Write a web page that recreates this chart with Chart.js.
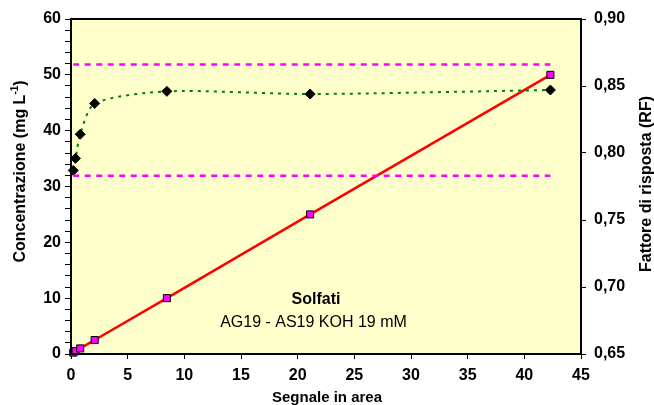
<!DOCTYPE html>
<html>
<head>
<meta charset="utf-8">
<script src="https://cdn.jsdelivr.net/npm/chart.js@4/dist/chart.umd.min.js"></script>
<style>
  html, body { margin: 0; padding: 0; background: #ffffff; }
  canvas { display: block; }
</style>
</head>
<body>
<canvas id="c" width="654" height="405"></canvas>
<script>
// ---- data ----
const signal        = [0.197, 0.398, 0.814, 2.09, 8.46, 21.1, 42.3];   // Segnale in area
const concentration = [0.25, 0.5, 1, 2.5, 10, 25, 50];                // mg/L (left axis)
const responseFactor = [0.787, 0.796, 0.814, 0.837, 0.846, 0.844, 0.847]; // RF (right axis)
const rfLimits      = [0.866, 0.783];                                  // upper / lower RF limits
const xTicks = { min: 0, max: 45, step: 5 };
const yTicks = { min: 0, max: 60, step: 10, minor: 2 };
const y2Ticks = { min: 0.65, max: 0.90, step: 0.05 };
const chartTitle = 'Solfati';
const chartSubtitle = 'AG19 - AS19 KOH 19 mM';
const xTitle = 'Segnale in area';
const yTitleMain = 'Concentrazione (mg L';
const yTitleSup = '-1';
const yTitleEnd = ')';
const y2Title = 'Fattore di risposta (RF)';

const FONT = '"Liberation Sans", Arial, Helvetica, sans-serif';

const concPoints = signal.map((s, i) => ({ x: s, y: concentration[i] }));
const rfPoints = signal.map((s, i) => ({ x: s, y: responseFactor[i] }));
const limitLine = v => [{ x: signal[0], y: v }, { x: signal[signal.length - 1], y: v }];

const decorPlugin = {
  id: 'decor',
  beforeDraw(chart) {
    const { ctx, chartArea: a } = chart;
    ctx.save();
    ctx.fillStyle = '#ffffff';
    ctx.fillRect(0, 0, chart.width, chart.height);
    ctx.fillStyle = '#FFFFCC';
    ctx.fillRect(a.left, a.top, a.right - a.left, a.bottom - a.top);
    ctx.restore();
  },
  afterDraw(chart) {
    const { ctx, chartArea: a } = chart;
    ctx.save();
    // plot border
    ctx.strokeStyle = '#000000';
    ctx.lineWidth = 2;
    ctx.strokeRect(a.left, a.top, a.right - a.left, a.bottom - a.top);

    ctx.fillStyle = '#000000';
    // x title
    ctx.font = 'bold 15px ' + FONT;
    ctx.textAlign = 'center';
    ctx.textBaseline = 'alphabetic';
    ctx.fillText(xTitle, 327, 401.5);

    // left title with superscript
    ctx.save();
    ctx.translate(25, 171.5);
    ctx.rotate(-Math.PI / 2);
    const fMain = 'bold 16px ' + FONT, fSup = 'bold 10px ' + FONT;
    ctx.font = fMain; const w1 = ctx.measureText(yTitleMain).width; const w3 = ctx.measureText(yTitleEnd).width;
    ctx.font = fSup; const w2 = ctx.measureText(yTitleSup).width;
    let x0 = -(w1 + w2 + w3) / 2;
    ctx.textAlign = 'left';
    ctx.font = fMain; ctx.fillText(yTitleMain, x0, 0);
    ctx.font = fSup; ctx.fillText(yTitleSup, x0 + w1, -7);
    ctx.font = fMain; ctx.fillText(yTitleEnd, x0 + w1 + w2, 0);
    ctx.restore();

    // right title
    ctx.save();
    ctx.translate(651, 184);
    ctx.rotate(-Math.PI / 2);
    ctx.font = 'bold 16px ' + FONT;
    ctx.textAlign = 'center';
    ctx.fillText(y2Title, 0, 0);
    ctx.restore();

    // in-plot annotation
    ctx.textAlign = 'center';
    ctx.font = 'bold 16px ' + FONT;
    ctx.fillText(chartTitle, 316, 304);
    ctx.font = '16px ' + FONT;
    ctx.fillText(chartSubtitle, 313.5, 326.5);
    ctx.restore();
  }
};

new Chart(document.getElementById('c'), {
  type: 'scatter',
  data: {
    datasets: [
      {
        label: 'RF max', data: limitLine(rfLimits[0]), yAxisID: 'y2', showLine: true,
        borderColor: '#FF00FF', borderWidth: 2.5, borderDash: [6, 5.5], pointRadius: 0, fill: false
      },
      {
        label: 'RF min', data: limitLine(rfLimits[1]), yAxisID: 'y2', showLine: true,
        borderColor: '#FF00FF', borderWidth: 2.5, borderDash: [6, 5.5], pointRadius: 0, fill: false
      },
      {
        label: 'RF', data: rfPoints, yAxisID: 'y2', showLine: true, tension: 0.25,
        borderColor: '#008000', borderWidth: 2, borderDash: [3, 5],
        pointStyle: 'rectRot', pointRadius: 5, pointBackgroundColor: '#000000',
        pointBorderColor: '#000000', pointBorderWidth: 1, fill: false, clip: false
      },
      {
        label: 'Concentrazione', data: concPoints, yAxisID: 'y', showLine: true,
        borderColor: '#FF0000', borderWidth: 2.5,
        pointStyle: 'rect', pointRadius: 5, pointBackgroundColor: '#FF00FF',
        pointBorderColor: '#000000', pointBorderWidth: 1, fill: false, clip: false
      }
    ]
  },
  options: {
    responsive: false,
    animation: false,
    devicePixelRatio: 1,
    layout: { padding: { top: 19, left: 0, right: 0, bottom: 0 } },
    plugins: { legend: { display: false }, tooltip: { enabled: false } },
    scales: {
      x: {
        type: 'linear', position: 'bottom', min: xTicks.min, max: xTicks.max,
        afterFit(s) { s.height = 51; },
        ticks: { stepSize: xTicks.step, color: '#000', padding: 7, font: { family: FONT, size: 16, weight: 'bold' }, autoSkip: false, maxRotation: 0 },
        grid: { drawOnChartArea: false, drawTicks: true, tickLength: 5, color: '#000', lineWidth: 1 },
        border: { display: true, color: '#000', width: 2 }
      },
      y: {
        type: 'linear', position: 'left', min: yTicks.min, max: yTicks.max,
        afterFit(s) { s.width = 71; },
        ticks: {
          stepSize: yTicks.minor, autoSkip: false, color: '#000', padding: 4,
          font: { family: FONT, size: 16, weight: 'bold' },
          callback: v => (Math.abs(v % yTicks.step) < 1e-9 ? String(v) : '')
        },
        grid: { drawOnChartArea: false, drawTicks: true, tickLength: 6, color: '#000', lineWidth: 1 },
        border: { display: true, color: '#000', width: 2 }
      },
      y2: {
        type: 'linear', position: 'right', min: y2Ticks.min, max: y2Ticks.max,
        afterFit(s) { s.width = 73; },
        ticks: {
          stepSize: y2Ticks.step, autoSkip: false, color: '#000', padding: 8,
          font: { family: FONT, size: 16, weight: 'bold' },
          callback: v => v.toFixed(2).replace('.', ',')
        },
        grid: { drawOnChartArea: false, drawTicks: true, tickLength: 5, color: '#000', lineWidth: 1 },
        border: { display: true, color: '#000', width: 2 }
      }
    }
  },
  plugins: [decorPlugin]
});
</script>
</body>
</html>
